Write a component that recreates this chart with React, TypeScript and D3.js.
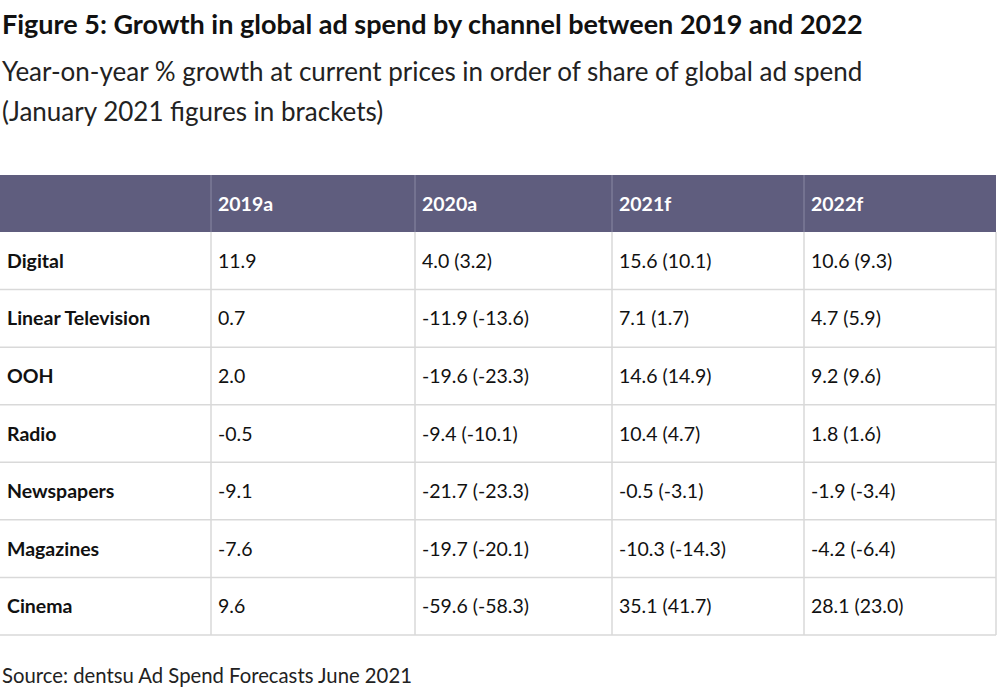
import React from "react";
import * as d3 from "d3";

const title = "Figure 5: Growth in global ad spend by channel between 2019 and 2022";
const subtitle1 = "Year-on-year % growth at current prices in order of share of global ad spend";
const subtitle2 = "(January 2021 figures in brackets)";
const source = "Source: dentsu Ad Spend Forecasts June 2021";

const years = ["2019a", "2020a", "2021f", "2022f"];
const channels = ["Digital", "Linear Television", "OOH", "Radio", "Newspapers", "Magazines", "Cinema"];
const v2019 = ["11.9", "0.7", "2.0", "-0.5", "-9.1", "-7.6", "9.6"];
const v2020 = ["4.0 (3.2)", "-11.9 (-13.6)", "-19.6 (-23.3)", "-9.4 (-10.1)", "-21.7 (-23.3)", "-19.7 (-20.1)", "-59.6 (-58.3)"];
const v2021 = ["15.6 (10.1)", "7.1 (1.7)", "14.6 (14.9)", "10.4 (4.7)", "-0.5 (-3.1)", "-10.3 (-14.3)", "35.1 (41.7)"];
const v2022 = ["10.6 (9.3)", "4.7 (5.9)", "9.2 (9.6)", "1.8 (1.6)", "-1.9 (-3.4)", "-4.2 (-6.4)", "28.1 (23.0)"];

const W = 1000, H = 693;
const FONT = "Lato, 'Noto Sans', sans-serif";
const colEdges = [0, 211, 415, 612, 804, 996];
const headerTop = 175, headerBottom = 232, tableBottom = 635;

export default function App() {
  const cols = ["", ...years];
  const values = [v2019, v2020, v2021, v2022];
  const y = d3.scaleBand<string>().domain(channels).range([headerBottom, tableBottom]);
  const hdr = "#5f5d7e";
  const grid = "#d9d9d9";
  return (
    <svg width={W} height={H} style={{ position: "absolute", left: 0, top: 0, background: "#fff" }} fontFamily={FONT}>
      <rect width={W} height={H} fill="#fff" />
      <text x={2} y={34} fontSize={27} fontWeight={700} fill="#111">{title}</text>
      <text x={2} y={81} fontSize={26} fill="#222">{subtitle1}</text>
      <text x={2} y={121} fontSize={26} fill="#222">{subtitle2}</text>

      <rect x={colEdges[0]} y={headerTop} width={colEdges[5] - colEdges[0]} height={headerBottom - headerTop} fill={hdr} />
      {cols.map((c, i) => (
        <text key={"h" + i} x={colEdges[i] + 7} y={211} fontSize={19.5} fontWeight={700} fill="#fff">{c}</text>
      ))}
      {colEdges.slice(1, 5).map((x, i) => (
        <line key={"hv" + i} x1={x} x2={x} y1={headerTop} y2={headerBottom} stroke="#8a89a3" strokeWidth={1} />
      ))}
      {channels.map((ch) => (
        <line key={"r" + ch} x1={0} x2={colEdges[5]} y1={(y(ch) as number) + y.bandwidth()} y2={(y(ch) as number) + y.bandwidth()} stroke={grid} strokeWidth={1.5} />
      ))}
      {colEdges.slice(1).map((x, i) => (
        <line key={"v" + i} x1={x} x2={x} y1={headerBottom} y2={tableBottom} stroke={grid} strokeWidth={1.5} />
      ))}
      {channels.map((ch, r) => {
        const cy = (y(ch) as number) + y.bandwidth() / 2 + 7;
        return (
          <g key={"row" + ch}>
            <text x={7} y={cy} fontSize={19.5} fontWeight={700} fill="#111">{ch}</text>
            {values.map((arr, c) => (
              <text key={c} x={colEdges[c + 1] + 7} y={cy} fontSize={19.5} fill="#111">{arr[r]}</text>
            ))}
          </g>
        );
      })}
      <text x={2} y={683} fontSize={20.3} fill="#222">{source}</text>
    </svg>
  );
}
